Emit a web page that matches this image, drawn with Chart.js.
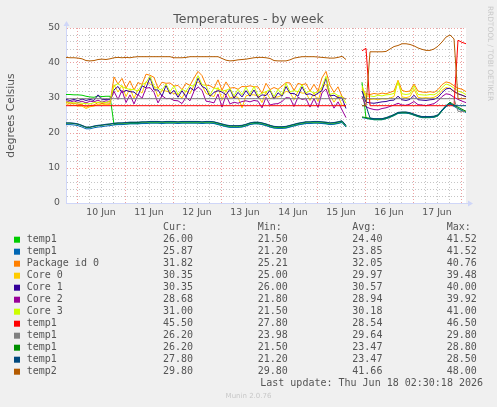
<!DOCTYPE html>
<html>
<head>
<meta charset="utf-8">
<title>Temperatures - by week</title>
<script src="https://cdn.jsdelivr.net/npm/chart.js@4.4.1/dist/chart.umd.min.js"></script>
<style>
	html, body { margin: 0; padding: 0; background: #f0f0f0; }
	#wrap { position: relative; width: 497px; height: 407px; }
</style>
</head>
<body>
<div id="wrap"><canvas id="temp-chart" width="497" height="407"></canvas></div>
<script>
// hours since 10 Jun 00:00, one sample every 2 hours
var hours = [
	-5.5, -3.5, -1.5, 0.5, 2.5, 4.5, 6.5, 8.5, 10.5, 12.5,
	14.5, 16.5, 18.5, 20.5, 22.5, 24.5, 26.5, 28.5, 30.5, 32.5,
	34.5, 36.5, 38.5, 40.5, 42.5, 44.5, 46.5, 48.5, 50.5, 52.5,
	54.5, 56.5, 58.5, 60.5, 62.5, 64.5, 66.5, 68.5, 70.5, 72.5,
	74.5, 76.5, 78.5, 80.5, 82.5, 84.5, 86.5, 88.5, 90.5, 92.5,
	94.5, 96.5, 98.5, 100.5, 102.5, 104.5, 106.5, 108.5, 110.5, 112.5,
	114.5, 116.5, 118.5, 120.5, 122.5, 124.5, 126.5, 128.5, 130.5, 132.5,
	134.5, 136.5, 138.5, 140.5, 142.5, 144.5, 146.5, 148.5, 150.5, 152.5,
	154.5, 156.5, 158.5, 160.5, 162.5, 164.5, 166.5, 168.5, 170.5, 172.5,
	174.5, 176.5, 178.5, 180.5, 182.5, 184.5, 186.5, 188.5, 190.5, 192.5,
	194.5
];

var dayLabels = ["10 Jun", "11 Jun", "12 Jun", "13 Jun", "14 Jun", "15 Jun", "16 Jun", "17 Jun"];
var dayLabelHours = [12, 36, 60, 84, 108, 132, 156, 180];
var yTickValues = [0, 10, 20, 30, 40, 50];

var temp1Green = [
	31.0, 31.0, 30.9, 30.9, 30.8, 30.5, 30.3, 30.2, 30.6, 30.4,
	30.5, 30.5, 22.4, 22.5, 22.5, 22.6, 22.7, 22.7, 22.7, 22.8,
	22.8, 22.9, 22.9, 22.9, 22.8, 22.9, 22.9, 22.9, 22.8, 22.9,
	22.9, 22.9, 22.9, 22.9, 22.8, 22.9, 22.9, 22.8, 22.5, 22.2,
	21.9, 21.7, 21.7, 21.7, 21.8, 22.1, 22.5, 22.7, 22.7, 22.5,
	22.2, 21.8, 21.5, 21.5, 21.5, 21.5, 21.8, 22.1, 22.4, 22.6,
	22.8, 22.8, 22.9, 22.9, 22.8, 22.7, 22.5, 22.6, 22.8, 23.1,
	21.8, null, null, null, 34.5, 24.2, 24.0, 23.8, 23.8, 23.8,
	24.1, 24.5, 25.0, 25.6, 25.7, 25.7, 25.5, 25.1, 24.7, 24.4,
	24.4, 24.4, 24.5, 24.9, 26.3, 27.5, 28.2, 27.8, 27.0, 26.4,
	26.0
];
var temp1Blue = [
	22.4, 22.4, 22.3, 22.1, 21.7, 21.2, 21.2, 21.5, 21.7, 21.8,
	22.0, 22.1, 22.3, 22.4, 22.4, 22.5, 22.6, 22.6, 22.6, 22.7,
	22.7, 22.8, 22.8, 22.8, 22.7, 22.8, 22.8, 22.8, 22.7, 22.8,
	22.8, 22.8, 22.8, 22.8, 22.7, 22.8, 22.8, 22.7, 22.4, 22.1,
	21.8, 21.6, 21.6, 21.6, 21.7, 22.0, 22.4, 22.6, 22.6, 22.4,
	22.1, 21.7, 21.4, 21.3, 21.3, 21.4, 21.7, 22.0, 22.3, 22.5,
	22.7, 22.7, 22.8, 22.8, 22.7, 22.6, 22.4, 22.5, 22.7, 23.0,
	21.7, null, null, null, 24.4, 24.2, 24.0, 23.8, 23.8, 23.8,
	24.1, 24.5, 25.0, 25.6, 25.7, 25.7, 25.5, 25.1, 24.7, 24.4,
	24.4, 24.4, 24.5, 24.9, 26.3, 27.5, 28.2, 27.6, 27.0, 26.4,
	25.87
];
var packageId0 = [
	28.8, 28.3, 28.5, 28.2, 28.1, 27.4, 27.8, 28.0, 28.7, 28.4,
	28.6, 28.5, 36.0, 34.0, 35.6, 32.8, 34.9, 32.3, 34.4, 33.9,
	36.8, 36.5, 35.9, 32.8, 34.5, 34.2, 34.3, 33.4, 33.6, 32.4,
	34.2, 33.6, 35.7, 37.6, 36.4, 33.7, 33.5, 32.8, 35.2, 32.2,
	34.6, 32.8, 33.0, 32.5, 33.3, 33.2, 33.5, 33.2, 33.2, 31.3,
	34.2, 32.4, 33.0, 32.5, 33.4, 34.4, 34.3, 32.1, 34.2, 33.8,
	34.1, 32.0, 33.9, 31.9, 35.8, 37.6, 33.6, 31.6, 33.2, 30.4,
	29.6, null, null, null, 32.5, 31.2, 31.0, 31.3, 31.1, 31.4,
	31.2, 31.6, 32.0, 35.0, 32.2, 31.8, 32.0, 34.0, 32.0, 31.7,
	31.6, 31.8, 31.6, 32.4, 33.8, 34.6, 34.3, 33.5, 32.8, 32.5,
	31.82
];
var core0 = [
	28.4, 27.8, 28.0, 27.7, 27.7, 27.0, 27.5, 27.7, 28.2, 28.0,
	28.2, 28.1, 33.8, 31.7, 33.6, 30.4, 32.7, 29.9, 32.4, 31.4,
	34.7, 34.0, 33.4, 30.4, 32.1, 32.0, 31.6, 31.3, 31.0, 30.0,
	32.0, 31.2, 33.6, 34.6, 33.6, 31.3, 30.8, 30.4, 33.0, 29.5,
	32.3, 30.0, 30.4, 30.2, 27.2, 30.6, 30.9, 30.9, 30.6, 28.7,
	31.8, 29.8, 30.2, 30.3, 30.8, 31.9, 31.6, 29.5, 31.9, 31.4,
	31.4, 29.3, 31.5, 29.0, 33.0, 34.0, 30.8, 28.8, 30.6, 27.9,
	27.6, null, null, null, 33.0, 29.8, 29.6, 29.7, 29.5, 29.8,
	29.7, 30.0, 30.4, 35.0, 30.3, 30.1, 30.4, 32.5, 30.2, 30.0,
	30.1, 30.0, 30.2, 30.8, 32.2, 33.0, 32.7, 31.8, 31.2, 30.8,
	30.35
];
var core1 = [
	29.6, 29.3, 29.6, 29.2, 29.7, 29.3, 29.6, 29.3, 30.9, 29.5,
	29.6, 29.6, 32.3, 33.3, 31.5, 32.2, 31.8, 31.7, 30.7, 33.5,
	32.9, 35.9, 32.3, 32.3, 30.5, 33.6, 31.1, 32.2, 30.2, 32.1,
	30.3, 33.0, 32.1, 35.7, 33.3, 32.7, 30.5, 31.6, 32.1, 31.7,
	30.9, 32.5, 29.9, 31.6, 30.3, 32.1, 30.5, 32.3, 30.1, 30.9,
	30.7, 32.2, 29.7, 31.5, 30.5, 33.3, 31.3, 31.3, 30.5, 33.2,
	31.0, 31.2, 30.6, 31.4, 32.1, 35.7, 30.6, 30.8, 30.1, 30.0,
	27.0, null, null, null, 32.0, 28.8, 28.6, 28.5, 28.7, 28.9,
	29.0, 29.3, 29.4, 30.5, 29.5, 29.3, 29.6, 30.8, 29.5, 29.4,
	29.3, 29.5, 29.6, 30.2, 31.5, 32.6, 32.8, 31.9, 31.2, 30.8,
	30.35
];
var core2 = [
	29.2, 28.8, 29.2, 28.7, 29.1, 28.6, 29.1, 28.9, 29.4, 28.8,
	29.2, 29.0, 31.9, 29.6, 32.2, 28.7, 30.9, 28.3, 31.0, 29.9,
	32.8, 33.0, 31.6, 28.6, 30.7, 29.8, 29.9, 29.3, 29.2, 28.4,
	30.2, 29.2, 31.9, 33.2, 32.2, 29.1, 28.9, 28.6, 31.1, 27.4,
	30.8, 28.3, 28.8, 28.5, 29.0, 29.2, 28.9, 29.3, 29.1, 27.2,
	30.2, 28.0, 28.3, 28.4, 29.0, 30.1, 30.0, 27.6, 30.2, 29.6,
	29.8, 27.4, 29.8, 27.3, 31.5, 32.6, 29.4, 27.1, 28.9, 26.6,
	24.4, null, null, null, 30.5, 27.5, 27.0, 26.7, 26.6, 27.0,
	27.2, 27.6, 28.0, 28.5, 28.0, 27.9, 28.3, 29.0, 28.1, 28.0,
	27.8, 28.1, 28.4, 29.2, 30.4, 31.2, 31.0, 30.2, 29.6, 29.1,
	28.68
];
var core3 = [
	28.9, 28.7, 28.6, 28.6, 28.5, 28.4, 28.3, 28.7, 28.8, 28.8,
	28.7, 29.1, 33.4, 34.1, 33.2, 32.8, 32.4, 32.4, 32.0, 33.8,
	34.4, 36.2, 33.3, 32.7, 32.2, 34.0, 31.8, 33.5, 31.0, 32.5,
	31.9, 33.6, 33.4, 36.4, 33.8, 33.6, 30.9, 32.8, 32.7, 32.0,
	32.2, 32.7, 30.6, 32.5, 30.9, 33.1, 31.0, 33.3, 30.7, 31.4,
	31.8, 32.4, 30.4, 32.5, 30.9, 34.2, 31.8, 32.1, 31.8, 33.8,
	31.5, 32.0, 31.4, 31.7, 33.2, 36.2, 31.0, 31.4, 30.7, 30.4,
	28.5, null, null, null, 33.5, 30.5, 30.6, 30.4, 30.8, 30.6,
	30.9, 31.0, 31.3, 34.5, 31.2, 31.0, 31.2, 33.5, 31.0, 30.9,
	30.8, 31.0, 30.9, 31.6, 33.0, 34.0, 33.6, 32.8, 32.0, 31.6,
	31.0
];
var temp1Red = [
	27.8, 27.8, 27.8, 27.8, 27.8, 27.8, 27.8, 27.8, 27.8, 27.8,
	27.8, 27.8, 27.8, 27.8, 27.8, 27.8, 27.8, 27.8, 27.8, 27.8,
	27.8, 27.8, 27.8, 27.8, 27.8, 27.8, 27.8, 27.8, 27.8, 27.8,
	27.8, 27.8, 27.8, 27.8, 27.8, 27.8, 27.8, 27.8, 27.8, 27.8,
	27.8, 27.8, 27.8, 27.8, 27.8, 27.8, 27.8, 27.8, 27.8, 27.8,
	27.8, 27.8, 27.8, 27.8, 27.8, 27.8, 27.8, 27.8, 27.8, 27.8,
	27.8, 27.8, 27.8, 27.8, 27.8, 27.8, 27.8, 27.8, 27.8, 27.8,
	27.8, null, null, null, 43.5, 44.2, 27.8, 27.8, 27.8, 27.8,
	27.8, 27.8, 27.8, 27.8, 27.8, 27.8, 27.8, 27.8, 27.8, 27.8,
	27.8, 27.8, 27.8, 27.8, 27.8, 27.8, 27.8, 27.8, 46.5, 45.9,
	45.5
];
var temp1Gray = [
	29.8, 29.8, 29.8, 29.8, 29.8, 29.8, 29.8, 29.8, 29.8, 29.8,
	29.8, 29.8, 29.8, 29.8, 29.8, 29.8, 29.8, 29.8, 29.8, 29.8,
	29.8, 29.8, 29.8, 29.8, 29.8, 29.8, 29.8, 29.8, 29.8, 29.8,
	29.8, 29.8, 29.8, 29.8, 29.8, 29.8, 29.8, 29.8, 29.8, 29.8,
	29.8, 29.8, 29.8, 29.8, 29.8, 29.8, 29.8, 29.8, 29.8, 29.8,
	29.8, 29.8, 29.8, 29.8, 29.8, 29.8, 29.8, 29.8, 29.8, 29.8,
	29.8, 29.8, 29.8, 29.8, 29.8, 29.8, 29.8, 29.8, 29.8, 29.8,
	29.8, null, null, null, 29.8, 29.8, 29.8, 29.8, 29.8, 29.8,
	29.8, 29.8, 29.8, 29.8, 29.8, 29.8, 29.8, 29.8, 29.8, 29.8,
	29.8, 29.8, 29.8, 29.8, 29.8, 29.8, 29.8, 29.8, 26.2, 26.2,
	26.2
];
var temp1DarkGreen = [
	22.8, 22.8, 22.7, 22.5, 22.1, 21.6, 21.6, 21.9, 22.1, 22.2,
	22.4, 22.5, 22.7, 22.8, 22.8, 22.9, 23.0, 23.0, 23.0, 23.1,
	23.1, 23.2, 23.2, 23.2, 23.1, 23.2, 23.2, 23.2, 23.1, 23.2,
	23.2, 23.2, 23.2, 23.2, 23.1, 23.2, 23.2, 23.1, 22.8, 22.5,
	22.2, 22.0, 22.0, 22.0, 22.1, 22.4, 22.8, 23.0, 23.0, 22.8,
	22.5, 22.1, 21.8, 21.7, 21.7, 21.8, 22.1, 22.4, 22.7, 22.9,
	23.1, 23.1, 23.2, 23.2, 23.1, 23.0, 22.8, 22.9, 23.1, 23.4,
	22.1, null, null, null, 24.6, 24.4, 24.2, 24.0, 24.0, 24.0,
	24.3, 24.7, 25.2, 25.8, 25.9, 25.9, 25.7, 25.3, 24.9, 24.6,
	24.6, 24.6, 24.7, 25.1, 26.5, 27.8, 28.8, 28.0, 27.4, 26.8,
	26.2
];
var temp1Teal = [
	22.9, 22.9, 22.8, 22.6, 22.2, 21.7, 21.7, 22.0, 22.2, 22.3,
	22.5, 22.6, 22.8, 22.9, 22.9, 23.0, 23.1, 23.1, 23.1, 23.2,
	23.2, 23.3, 23.3, 23.3, 23.2, 23.3, 23.3, 23.3, 23.2, 23.3,
	23.3, 23.3, 23.3, 23.3, 23.2, 23.3, 23.3, 23.2, 22.9, 22.6,
	22.3, 22.1, 22.1, 22.1, 22.2, 22.5, 22.9, 23.1, 23.1, 22.9,
	22.6, 22.2, 21.9, 21.8, 21.8, 21.9, 22.2, 22.5, 22.8, 23.0,
	23.2, 23.2, 23.3, 23.3, 23.2, 23.1, 22.9, 23.0, 23.2, 23.5,
	22.2, null, null, null, 27.8, 27.8, 24.3, 24.1, 24.1, 24.1,
	24.4, 24.8, 25.3, 25.9, 26.0, 26.0, 25.8, 25.4, 25.0, 24.7,
	24.7, 24.7, 24.8, 25.2, 26.6, 27.8, 28.5, 27.8, 27.8, 27.8,
	27.8
];
var temp2 = [
	41.6, 41.5, 41.5, 41.4, 41.2, 40.7, 40.6, 40.7, 41.0, 41.1,
	41.0, 41.2, 41.5, 41.6, 41.5, 41.6, 41.5, 41.7, 41.8, 41.8,
	41.8, 41.8, 41.8, 41.8, 41.8, 41.8, 41.8, 41.5, 41.5, 41.5,
	41.6, 41.8, 41.8, 41.8, 41.8, 41.8, 41.8, 41.8, 41.8, 41.3,
	40.8, 40.6, 40.7, 40.9, 41.0, 41.1, 41.3, 41.5, 41.6, 41.6,
	41.5, 41.3, 40.7, 40.6, 40.6, 40.6, 40.9, 41.4, 41.6, 41.8,
	41.8, 41.8, 41.8, 41.7, 41.6, 41.5, 41.4, 41.4, 41.6, 41.9,
	41.0, null, null, null, 27.8, 27.8, 43.2, 43.2, 43.2, 43.2,
	43.3, 44.0, 44.7, 45.0, 45.5, 45.5, 45.3, 44.9, 44.3, 43.9,
	43.6, 43.6, 44.0, 44.8, 46.0, 47.4, 48.0, 46.9, 29.8, 29.8,
	29.8
];

var seriesNames = ["temp1", "temp1", "Package id 0", "Core 0", "Core 1", "Core 2", "Core 3",
	"temp1", "temp1", "temp1", "temp1", "temp2"];
var seriesColors = ["#00cc00", "#0066b3", "#ff8000", "#ffcc00", "#330099", "#990099", "#ccff00",
	"#ff0000", "#808080", "#008f00", "#00487d", "#b35a00"];
var seriesValues = [temp1Green, temp1Blue, packageId0, core0, core1, core2, core3,
	temp1Red, temp1Gray, temp1DarkGreen, temp1Teal, temp2];

var legendHeaders = ["Cur:", "Min:", "Avg:", "Max:"];
var curValues = [26.00, 25.87, 31.82, 30.35, 30.35, 28.68, 31.00, 45.50, 26.20, 26.20, 27.80, 29.80];
var minValues = [21.50, 21.20, 25.21, 25.00, 26.00, 21.80, 21.50, 27.80, 23.98, 21.50, 21.20, 29.80];
var avgValues = [24.40, 23.85, 32.05, 29.97, 30.57, 28.94, 30.18, 28.54, 29.64, 23.47, 23.47, 41.66];
var maxValues = [41.52, 41.52, 40.76, 39.48, 40.00, 39.92, 41.00, 46.50, 29.80, 28.80, 28.50, 48.00];
var lastUpdate = "Last update: Thu Jun 18 02:30:18 2026";

var fontColor = "#555555";
var axisColor = "#cfd6f8";
var minorGrid = "rgba(160,160,160,0.6)";
var majorGrid = "rgba(225,110,110,0.65)";

// grid every 6 hours on x, every 2 degrees on y
var xGridHours = [];
for (var h = 0; h <= 192; h += 6) xGridHours.push(h);
var yGridValues = [];
for (var v = 0; v <= 50; v += 2) yGridValues.push(v);

var datasets = seriesNames.map(function (name, i) {
	return {
		label: name,
		data: seriesValues[i].map(function (val, k) { return { x: hours[k], y: val }; }),
		borderColor: seriesColors[i],
		backgroundColor: seriesColors[i],
		borderWidth: 1,
		pointRadius: 0,
		tension: 0,
		fill: false,
		spanGaps: false,
		order: seriesNames.length - i
	};
});

// munin style backdrop, arrows, watermark and the legend table
var muninPlugin = {
	id: 'munin',
	beforeDraw: function (chart) {
		var ctx = chart.ctx, a = chart.chartArea;
		ctx.save();
		ctx.fillStyle = "#f0f0f0";
		ctx.fillRect(0, 0, chart.width, chart.height);
		ctx.fillStyle = "#ffffff";
		ctx.fillRect(a.left, a.top, a.right - a.left, a.bottom - a.top);
		ctx.restore();
	},
	afterDraw: function (chart) {
		var ctx = chart.ctx, a = chart.chartArea;
		ctx.save();

		// axis arrows
		ctx.strokeStyle = axisColor;
		ctx.fillStyle = axisColor;
		ctx.lineWidth = 1;
		ctx.beginPath();
		ctx.moveTo(a.left + 0.5, a.top);
		ctx.lineTo(a.left + 0.5, a.top - 4);
		ctx.moveTo(a.right, a.bottom + 0.5);
		ctx.lineTo(a.right + 4, a.bottom + 0.5);
		ctx.stroke();
		ctx.beginPath();
		ctx.moveTo(a.left - 2.5, a.top - 2);
		ctx.lineTo(a.left + 3.5, a.top - 2);
		ctx.lineTo(a.left + 0.5, a.top - 7);
		ctx.closePath();
		ctx.fill();
		ctx.beginPath();
		ctx.moveTo(a.right + 2, a.bottom - 2.5);
		ctx.lineTo(a.right + 2, a.bottom + 3.5);
		ctx.lineTo(a.right + 7, a.bottom + 0.5);
		ctx.closePath();
		ctx.fill();

		// RRDTOOL watermark
		ctx.save();
		ctx.translate(490, 53.5);
		ctx.rotate(Math.PI / 2);
		ctx.font = '7.4px "DejaVu Sans"';
		ctx.fillStyle = "#c8c8c8";
		ctx.textAlign = "center";
		ctx.textBaseline = "middle";
		ctx.fillText("RRDTOOL / TOBI OETIKER", 0, 0);
		ctx.restore();

		// legend table
		var cols = [163, 257.7, 352.3, 446.7];
		ctx.font = '10px "DejaVu Sans Mono"';
		ctx.textBaseline = "middle";
		ctx.textAlign = "left";
		ctx.fillStyle = fontColor;
		legendHeaders.forEach(function (txt, c) {
			ctx.fillText(txt, cols[c], 227.7);
		});
		seriesNames.forEach(function (name, i) {
			var y = 239.7 + 12 * i;
			ctx.fillStyle = seriesColors[i];
			ctx.fillRect(14, y - 3, 6, 6);
			ctx.fillStyle = fontColor;
			ctx.fillText(name, 26.7, y);
			ctx.fillText(curValues[i].toFixed(2), cols[0], y);
			ctx.fillText(minValues[i].toFixed(2), cols[1], y);
			ctx.fillText(avgValues[i].toFixed(2), cols[2], y);
			ctx.fillText(maxValues[i].toFixed(2), cols[3], y);
		});
		ctx.textAlign = "right";
		ctx.fillText(lastUpdate, 483, 383.5);

		ctx.font = '7px "DejaVu Sans"';
		ctx.fillStyle = "#c8c8c8";
		ctx.textAlign = "center";
		ctx.fillText("Munin 2.0.76", 248.5, 396);
		ctx.restore();
	}
};

var chartOptions = {
	responsive: false,
	animation: false,
	events: [],
	layout: {
		padding: { left: 0, top: 0, right: 0, bottom: 184 }
	},
	plugins: {
		legend: { display: false },
		tooltip: { enabled: false },
		title: {
			display: true,
			text: 'Temperatures - by week',
			color: fontColor,
			font: { family: 'DejaVu Sans', size: 12.5, weight: 'normal' },
			padding: { top: 12, bottom: 1 }
		}
	},
	scales: {
		x: {
			type: 'linear',
			min: -5.5,
			max: 194.5,
			border: { display: true, color: axisColor, width: 1, dash: [1, 2] },
			grid: {
				drawTicks: false,
				lineWidth: 1,
				color: function (c) {
					var t = c.tick ? c.tick.value : null;
					if (t === null) return 'rgba(0,0,0,0)';
					return t % 24 === 0 ? majorGrid : minorGrid;
				}
			},
			ticks: {
				autoSkip: false,
				maxRotation: 0,
				minRotation: 0,
				padding: 4,
				color: fontColor,
				font: { family: 'DejaVu Sans', size: 9.3 },
				callback: function (value) {
					var idx = dayLabelHours.indexOf(value);
					return idx >= 0 ? dayLabels[idx] : '';
				}
			},
			afterBuildTicks: function (scale) {
				scale.ticks = xGridHours.map(function (h) { return { value: h }; });
			},
			afterFit: function (scale) { scale.height = 20; }
		},
		y: {
			type: 'linear',
			min: 0,
			max: 50,
			border: { display: true, color: axisColor, width: 1, dash: [1, 2] },
			grid: {
				drawTicks: false,
				lineWidth: 1,
				color: function (c) {
					var t = c.tick ? c.tick.value : null;
					if (t === null || t === 0) return 'rgba(0,0,0,0)';
					return t % 10 === 0 ? majorGrid : minorGrid;
				}
			},
			ticks: {
				autoSkip: false,
				padding: 6,
				color: fontColor,
				font: { family: 'DejaVu Sans', size: 9.3 },
				callback: function (value) {
					return yTickValues.indexOf(value) >= 0 ? String(value) : '';
				}
			},
			title: {
				display: true,
				text: 'degrees Celsius',
				color: fontColor,
				font: { family: 'DejaVu Sans', size: 10.7 },
				padding: { top: 4.5, bottom: 0 }
			},
			afterBuildTicks: function (scale) {
				scale.ticks = yGridValues.map(function (v) { return { value: v }; });
			},
			afterFit: function (scale) { scale.width = 66; }
		},
		// empty strip on the right, keeps the plot at munin's width
		spacer: {
			type: 'linear',
			position: 'right',
			display: true,
			grid: { display: false, drawOnChartArea: false },
			border: { display: false },
			ticks: { display: false },
			afterFit: function (scale) { scale.width = 31; }
		}
	}
};

var chartData = {
	datasets: datasets
};

var config = {
	type: 'line',
	data: chartData,
	options: chartOptions,
	plugins: [muninPlugin]
};

var tempChart = new Chart(document.getElementById('temp-chart'), config);
</script>
</body>
</html>
